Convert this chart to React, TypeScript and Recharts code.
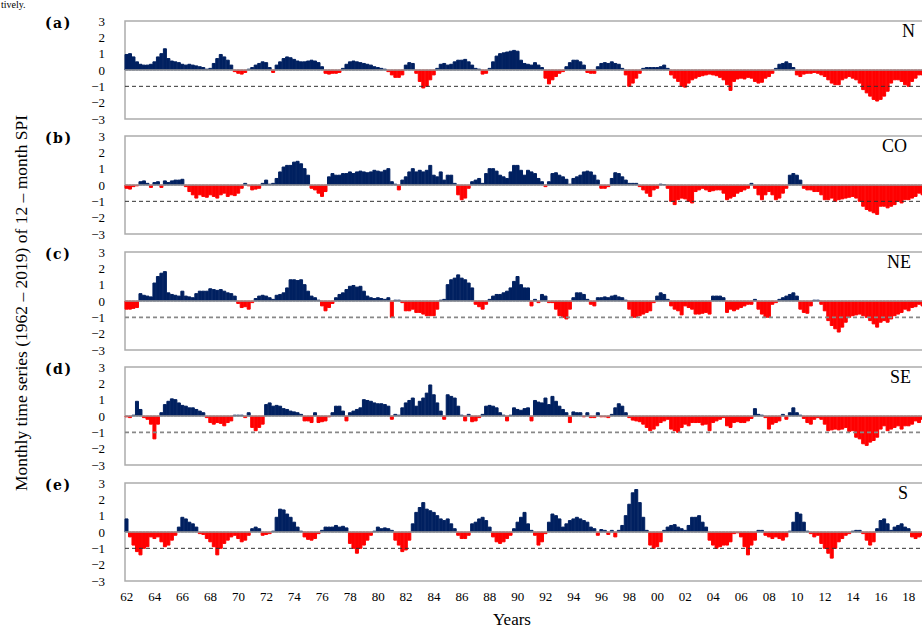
import React from 'react';
import { BarChart, Bar, XAxis, YAxis, ReferenceLine, ReferenceArea, Cell } from 'recharts';

const years = [
  1962, 1963, 1964, 1965, 1966, 1967, 1968, 1969, 1970, 1971,
  1972, 1973, 1974, 1975, 1976, 1977, 1978, 1979, 1980, 1981,
  1982, 1983, 1984, 1985, 1986, 1987, 1988, 1989, 1990, 1991,
  1992, 1993, 1994, 1995, 1996, 1997, 1998, 1999, 2000, 2001,
  2002, 2003, 2004, 2005, 2006, 2007, 2008, 2009, 2010, 2011,
  2012, 2013, 2014, 2015, 2016, 2017, 2018, 2019,
];
const quarters = ['Q1', 'Q2', 'Q3', 'Q4'];
const yTicks = [-3, -2, -1, 0, 1, 2, 3];
const xTickYears = [1962, 1964, 1966, 1968, 1970, 1972, 1974, 1976, 1978, 1980, 1982, 1984, 1986, 1988, 1990, 1992, 1994, 1996, 1998, 2000, 2002, 2004, 2006, 2008, 2010, 2012, 2014, 2016, 2018];
const xTickLabels = ['62', '64', '66', '68', '70', '72', '74', '76', '78', '80', '82', '84', '86', '88', '90', '92', '94', '96', '98', '00', '02', '04', '06', '08', '10', '12', '14', '16', '18'];
const panelLetters = ['(a)', '(b)', '(c)', '(d)', '(e)'];
const regionNames = ['N', 'CO', 'NE', 'SE', 'S'];

// quarterly 12-month SPI, one row per year (1962..2019)
const spiN = [
  0.95, 1.0, 0.8, 0.5,
  0.35, 0.3, 0.3, 0.35,
  0.5, 0.8, 1.0, 1.3,
  0.7, 0.55, 0.5, 0.45,
  0.35, 0.3, 0.35, 0.3,
  0.25, 0.2, 0.15, 0.05,
  0.1, 0.4, 0.7, 0.95,
  0.8, 0.6, 0.3, -0.1,
  -0.2, -0.25, -0.15, 0.05,
  0.15, 0.3, 0.4, 0.5,
  0.45, 0.15, -0.15, 0.3,
  0.5, 0.7, 0.8, 0.75,
  0.65, 0.55, 0.5, 0.5,
  0.55, 0.6, 0.55, 0.45,
  0.2, -0.2, -0.25, -0.2,
  -0.2, -0.15, 0.1, 0.35,
  0.5, 0.55, 0.5, 0.45,
  0.4, 0.35, 0.3, 0.2,
  0.15, 0.1, 0.05, -0.1,
  -0.3, -0.45, -0.45, -0.3,
  0.3, 0.45, 0.4, -0.2,
  -0.7, -1.1, -1.0, -0.6,
  -0.3, 0.1, 0.35, 0.4,
  0.3, 0.35, 0.5, 0.6,
  0.6, 0.65, 0.5, 0.3,
  0.1, 0.05, -0.25, -0.2,
  0.1, 0.5, 0.85, 1.0,
  1.05, 1.1, 1.15, 1.2,
  1.15, 0.6, 0.4, 0.35,
  0.3, 0.45, 0.3, 0.15,
  -0.5, -0.85, -0.6, -0.4,
  -0.2, -0.1, 0.2, 0.45,
  0.6, 0.6, 0.5, 0.3,
  -0.15, -0.2, -0.2, 0.2,
  0.4, 0.45, 0.4, 0.5,
  0.4, 0.35, 0.1, -0.3,
  -1.0, -0.8, -0.5, -0.2,
  0.1, 0.15, 0.15, 0.15,
  0.15, 0.2, 0.3, 0.1,
  -0.3, -0.5, -0.7, -1.0,
  -1.05, -0.8, -0.6, -0.5,
  -0.4, -0.35, -0.3, -0.25,
  -0.3, -0.35, -0.45, -0.6,
  -0.9, -1.25, -0.7, -0.55,
  -0.5, -0.55, -0.45, -0.5,
  -0.7, -0.8, -0.75, -0.5,
  -0.4, -0.2, 0.1, 0.35,
  0.4, 0.5, 0.4, 0.15,
  -0.3, -0.4, -0.25, -0.2,
  -0.2, -0.15, -0.2, -0.3,
  -0.4, -0.6, -0.8, -0.9,
  -0.9, -0.6, -0.5, -0.4,
  -0.5, -0.6, -0.8, -1.2,
  -1.4, -1.6, -1.8, -1.9,
  -1.8, -1.6, -1.3, -0.8,
  -0.6, -0.6, -0.7, -0.9,
  -1.0, -0.7, -0.5, -0.3,
  -0.3, -0.4, -0.3, -0.2,
];

const spiCO = [
  -0.2, -0.25, -0.1, -0.05,
  0.2, 0.25, 0.1, -0.15,
  0.15, 0.2, -0.15, 0.25,
  0.15, 0.25, 0.3, 0.3,
  0.35, -0.1, -0.4, -0.6,
  -0.8, -0.6, -0.7, -0.75,
  -0.6, -0.7, -0.8, -0.6,
  -0.5, -0.7, -0.6, -0.65,
  -0.5, -0.2, 0.1, -0.05,
  -0.3, -0.25, -0.2, 0.1,
  0.3, 0.05, 0.1, 0.4,
  0.8, 1.1, 1.2, 1.2,
  1.4, 1.45, 1.3, 1.0,
  0.6, -0.2, -0.3, -0.5,
  -0.7, -0.4, 0.5, 0.7,
  0.6, 0.6, 0.7, 0.7,
  0.8, 0.7, 0.8, 0.85,
  0.8, 0.75, 0.8, 0.9,
  0.85, 0.8, 0.9, 1.0,
  0.2, 0.05, -0.3, 0.3,
  0.5, 0.8, 1.0, 0.8,
  0.9, 0.8, 0.9, 1.2,
  0.6, 0.5, 0.8, 0.3,
  0.6, 0.6, 0.1, -0.6,
  -0.9, -0.8, -0.2, 0.2,
  0.3, 0.4, 0.1, 0.7,
  1.0, 1.0, 0.85, 0.6,
  0.5, 0.4, 0.8, 1.2,
  1.2, 0.9, 0.6, 0.9,
  0.8, 0.7, 0.4, 0.2,
  -0.1, 0.2, 0.7, 0.75,
  0.6, 0.5, 0.35, 0.05,
  0.4, 0.5, 0.6, 0.8,
  0.85, 0.8, 0.6, 0.3,
  -0.2, -0.2, -0.1, 0.4,
  0.75, 0.7, 0.5, 0.3,
  0.1, 0.1, 0.1, -0.1,
  -0.3, -0.5, -0.7, -0.3,
  -0.2, 0.05, 0.03, -0.2,
  -1.0, -1.2, -0.9, -0.8,
  -0.85, -1.0, -1.1, -0.4,
  -0.3, -0.2, -0.3, -0.4,
  -0.35, -0.3, -0.3, -0.5,
  -0.9, -0.8, -0.7, -0.5,
  -0.4, -0.3, -0.2, 0.1,
  -0.2, -0.6, -0.9, -0.6,
  -0.4, -0.6, -0.9, -0.8,
  -0.5, -0.2, 0.6, 0.7,
  0.6, 0.3, -0.2, -0.3,
  -0.3, -0.4, -0.4, -0.6,
  -0.9, -0.9, -0.8, -1.0,
  -0.9, -0.85, -0.8, -0.75,
  -0.7, -0.8, -1.0, -1.3,
  -1.5, -1.6, -1.7, -1.8,
  -1.3, -1.3, -1.4, -1.3,
  -1.2, -1.0, -1.1, -0.9,
  -0.9, -0.8, -0.7, -0.5,
  -0.6, -0.5, -0.4, -0.3,
];

const spiNE = [
  -0.5, -0.5, -0.45, -0.4,
  0.45, 0.35, 0.3, 0.25,
  1.1, 1.5, 1.7, 1.8,
  0.5, 0.4, 0.35, 0.3,
  0.6, 0.3, 0.25, 0.2,
  0.45, 0.6, 0.6, 0.6,
  0.75, 0.7, 0.65, 0.7,
  0.6, 0.5, 0.45, 0.3,
  -0.15, -0.4, -0.35, -0.5,
  -0.1, 0.15, 0.3, 0.35,
  0.3, 0.2, 0.1, 0.35,
  0.4, 0.5, 0.8, 1.3,
  1.3, 1.25, 1.3, 1.0,
  0.6, 0.3, 0.2, 0.05,
  -0.3, -0.6, -0.4, -0.15,
  0.2, 0.4, 0.5, 0.7,
  0.9, 0.95, 0.85, 0.9,
  0.6, 0.3, 0.2, 0.15,
  0.2, 0.15, 0.1, 0.2,
  -1.0, 0.05, 0.05, -0.1,
  -0.6, -0.6, -0.5, -0.7,
  -0.7, -0.8, -0.9, -0.9,
  -0.9, -0.5, 0.05, 0.1,
  1.0, 1.3, 1.4, 1.6,
  1.4, 1.3, 1.1, 0.8,
  -0.2, -0.35, -0.5, -0.2,
  0.1, 0.3, 0.4, 0.4,
  0.5, 0.6, 0.8, 1.2,
  1.5, 1.0, 0.8, 0.8,
  -0.3, 0.1, -0.1, 0.4,
  0.3, -0.1, -0.1, -0.5,
  -0.9, -1.0, -1.1, -0.5,
  0.2, 0.5, 0.5, 0.4,
  0.1, -0.2, -0.3, 0.2,
  0.2, 0.25, 0.2, 0.3,
  0.35, 0.25, 0.2, 0.05,
  -0.5, -1.0, -1.0, -0.9,
  -0.8, -0.7, -0.6, -0.1,
  0.3, 0.5, 0.4, 0.1,
  -0.3, -0.5, -0.6, -0.85,
  -0.3, -0.4, -0.5, -0.8,
  -0.8, -0.75, -0.7, -0.8,
  0.3, 0.3, 0.3, 0.2,
  -0.7, -0.5, -0.6, -0.5,
  -0.4, -0.3, -0.2, -0.2,
  0.1, -0.5, -0.8, -1.0,
  -1.0, -0.2, -0.1, 0.1,
  0.2, 0.3, 0.4, 0.5,
  0.3, -0.5, -0.7, -0.75,
  -0.3, 0.05, 0.05, -0.2,
  -0.6, -1.2, -1.5, -1.7,
  -1.9, -1.6, -1.3, -1.0,
  -0.9, -0.85, -0.8, -0.9,
  -1.0, -1.2, -1.4, -1.6,
  -1.3, -1.2, -1.3, -1.1,
  -0.9, -0.8, -0.7, -0.5,
  -0.6, -0.4, -0.35, -0.2,
  -0.3, -0.4, -0.5, -0.4,
];

const spiSE = [
  -0.05, -0.1, 0.05, 0.9,
  0.4, -0.1, -0.2, -0.5,
  -1.4, -0.5, 0.2, 0.7,
  0.9, 1.05, 1.0, 0.8,
  0.65, 0.6, 0.5, 0.5,
  0.4, 0.3, 0.2, -0.1,
  -0.4, -0.5, -0.4, -0.45,
  -0.6, -0.4, -0.3, 0.05,
  0.05, 0.05, -0.1, 0.2,
  -0.7, -0.9, -0.7, -0.5,
  0.7, 0.8, 0.6, 0.65,
  0.6, 0.45, 0.4, 0.3,
  0.25, 0.2, 0.1, -0.3,
  -0.3, -0.4, 0.2, -0.4,
  -0.35, -0.3, -0.05, 0.2,
  0.6, 0.6, 0.3, -0.3,
  0.2, 0.3, 0.4, 0.5,
  1.0, 0.95, 0.9, 0.8,
  0.75, 0.75, 0.7, 0.6,
  -0.2, 0.1, 0.05, 0.5,
  0.8, 0.95, 1.1, 0.6,
  0.9, 1.1, 1.4, 1.9,
  1.3, 0.8, 0.3, -0.2,
  1.3, 1.2, 1.1, 0.6,
  0.05, -0.3, 0.1, -0.35,
  -0.3, -0.1, 0.1, 0.6,
  0.65, 0.6, 0.5, 0.2,
  0.05, -0.3, 0.05, 0.5,
  0.4, 0.35, 0.45, 0.5,
  -0.3, 0.95, 0.85, 0.8,
  1.1, 0.7, 1.2, 0.9,
  0.6, 0.4, 0.2, -0.4,
  0.25, 0.2, 0.2, -0.05,
  0.2, -0.1, -0.1, 0.2,
  -0.05, -0.05, -0.1, 0.1,
  0.5, 0.75, 0.6, 0.2,
  -0.1, -0.25, -0.3, -0.35,
  -0.5, -0.7, -0.9, -0.8,
  -0.6, -0.4, -0.3, -0.2,
  -0.8, -0.9, -1.0, -0.7,
  -0.5, -0.6, -0.4, -0.4,
  -0.4, -0.55, -0.5, -0.9,
  -0.4, -0.3, -0.2, -0.1,
  -0.6, -0.7, -0.4, -0.35,
  -0.4, -0.4, -0.3, -0.15,
  0.45, 0.1, 0.05, -0.1,
  -0.8, -0.5, -0.4, -0.3,
  0.1, -0.2, 0.2, 0.5,
  0.2, 0.05, -0.15, -0.4,
  -0.5, -0.2, -0.1, -0.2,
  -0.5, -0.9, -0.85, -0.8,
  -0.85, -0.8, -0.7, -0.95,
  -0.9, -1.3, -1.4, -1.7,
  -1.8, -1.6, -1.5, -1.3,
  -0.8, -0.6, -0.9, -0.8,
  -0.7, -0.6, -0.8, -0.6,
  -0.6, -0.5, -0.3, -0.4,
  -0.2, -0.3, -0.2, -0.1,
];

const spiS = [
  0.8, -0.3, -0.8, -1.2,
  -1.4, -1.0, -0.9, -0.3,
  -0.4, -0.3, -0.6, -0.9,
  -0.8, -0.5, -0.2, 0.3,
  0.9, 0.8, 0.6, 0.5,
  0.3, -0.1, -0.15, -0.4,
  -0.6, -0.9, -1.4, -1.0,
  -0.7, -0.5, -0.3, -0.2,
  -0.4, -0.6, -0.5, -0.2,
  0.2, 0.3, 0.2, -0.2,
  -0.15, -0.1, 0.05, 0.9,
  1.4, 1.35, 1.1, 0.9,
  0.6, 0.3, 0.05, -0.3,
  -0.45, -0.5, -0.4, -0.1,
  0.1, 0.3, 0.3, 0.3,
  0.4, 0.3, 0.35, 0.25,
  -0.7, -1.0, -1.3, -1.0,
  -0.8, -0.5, -0.2, 0.05,
  0.3, 0.2, 0.25, 0.2,
  0.1, -0.5, -0.8, -1.2,
  -1.1, -0.5, 0.5, 1.2,
  1.5, 1.8, 1.4, 1.3,
  1.2, 1.0, 0.8, 0.7,
  0.8, 0.5, 0.2, -0.2,
  -0.4, -0.4, -0.2, 0.5,
  0.6, 0.8, 0.9, 0.7,
  0.3, -0.3, -0.6, -0.7,
  -0.6, -0.4, -0.2, 0.2,
  0.6, 0.9, 1.2, 0.5,
  0.1, -0.2, -0.8, -0.6,
  -0.1, 0.6, 1.1, 1.0,
  0.8, 0.3, 0.5, 0.7,
  0.8, 0.9, 0.8, 0.7,
  0.6, 0.3, 0.2, -0.2,
  0.15, 0.1, -0.15, 0.1,
  -0.3, 0.1, 0.4, 1.0,
  1.7, 2.4, 2.6, 1.8,
  0.9, 0.1, -0.8, -1.0,
  -0.9, -0.6, 0.1, 0.3,
  0.4, 0.45, 0.3, 0.2,
  0.1, 0.4, 0.9, 0.9,
  1.0, 0.6, 0.3, -0.5,
  -0.8, -1.0, -0.9, -0.8,
  -0.8, -0.6, -0.1, -0.05,
  -0.3, -0.9, -1.4, -0.8,
  -0.5, 0.1, 0.1, -0.2,
  -0.3, -0.4, -0.3, -0.4,
  -0.5, -0.3, 0.05, 0.6,
  1.2, 1.1, 0.6, 0.05,
  -0.1, -0.3, -0.2, -0.7,
  -1.0, -1.3, -1.6, -1.0,
  -0.6, -0.4, -0.2, -0.1,
  0.05, 0.1, 0.1, -0.1,
  -0.5, -0.8, -0.6, 0.2,
  0.7, 0.8, 0.5, 0.1,
  0.3, 0.4, 0.5, 0.3,
  0.2, -0.3, -0.4, -0.3,
  -0.2, -0.1, 0.05, 0.1,
];

const BLUE = '#002060';
const RED = '#FF0000';
const FONT = "'Liberation Serif', 'DejaVu Serif', serif";

const categories = years.flatMap((y) => quarters.map((q) => `${y}${q}`));
const xTicks = xTickYears.map((y) => `${y}Q1`);
const xLabelOf: Record<string, string> = {};
xTickYears.forEach((y, i) => {
  xLabelOf[`${y}Q1`] = xTickLabels[i];
});

const series = [spiN, spiCO, spiNE, spiSE, spiS];
const panelTops = [20.5, 136, 251.5, 367, 482.5];
const dashStyles = [
  { stroke: '#333', width: 1 },
  { stroke: '#333', width: 1 },
  { stroke: '#888', width: 1.8 },
  { stroke: '#888', width: 1.8 },
  { stroke: '#333', width: 1 },
];

const PLOT_H = 98;
const PAD = 10;

function Panel({ values, top, showX, dash }: { values: number[]; top: number; showX: boolean; dash: { stroke: string; width: number } }) {
  const data = categories.map((c, i) => ({ q: c, v: values[i] }));
  const height = PAD + PLOT_H + (showX ? 30 : 0) + PAD;
  return (
    <div style={{ position: 'absolute', left: 0, top: top - PAD }}>
      <BarChart
        width={960}
        height={height}
        data={data}
        margin={{ top: PAD, right: 25, bottom: PAD, left: 0 }}
        barCategoryGap={0}
        barGap={0}
      >
        <XAxis
          dataKey="q"
          hide={!showX}
          height={30}
          ticks={xTicks}
          interval={0}
          tickFormatter={(v: string) => xLabelOf[v] ?? ''}
          axisLine={false}
          tickLine={false}
          tickSize={6}
          tickMargin={5}
          tick={{ fontFamily: FONT, fontSize: 13, fill: '#000' }}
        />
        <YAxis
          type="number"
          domain={[-3, 3]}
          ticks={yTicks}
          interval={0}
          width={125}
          allowDataOverflow
          axisLine={false}
          tickLine={false}
          tickSize={6}
          tickMargin={14}
          tickFormatter={(v: number) => (v < 0 ? `\u2212${Math.abs(v)}` : `${v}`)}
          tick={{ fontFamily: FONT, fontSize: 13, fill: '#000' }}
        />
        <Bar dataKey="v" isAnimationActive={false}>
          {data.map((d, i) => (
            <Cell key={i} fill={d.v >= 0 ? BLUE : RED} stroke={d.v >= 0 ? BLUE : RED} strokeWidth={1} />
          ))}
        </Bar>
        <ReferenceLine y={0} stroke="#9a9a9a" strokeWidth={1.5} />
        <ReferenceLine y={-1} stroke={dash.stroke} strokeWidth={dash.width} strokeDasharray="4 3" />
        <ReferenceArea y1={-3} y2={3} fill="none" fillOpacity={0} stroke="#acacac" strokeWidth={1.5} />
      </BarChart>
    </div>
  );
}

export default function App() {
  return (
    <div
      style={{
        position: 'absolute',
        left: 0,
        top: 0,
        width: 922,
        height: 628,
        overflow: 'hidden',
        background: '#fff',
      }}
    >
      {series.map((vals, i) => (
        <Panel key={i} values={vals} top={panelTops[i]} showX={i === 4} dash={dashStyles[i]} />
      ))}
      <svg
        width={922}
        height={628}
        style={{ position: 'absolute', left: 0, top: 0, pointerEvents: 'none' }}
      >
        <text x={1} y={8} fontFamily={FONT} fontSize={10} fill="#000">tively.</text>
        <text
          transform="rotate(-90)"
          x={-303}
          y={27}
          textAnchor="middle"
          fontFamily={FONT}
          fontSize={17.5}
          fill="#000"
        >
          Monthly time series (1962 – 2019) of 12 – month  SPI
        </text>
        {panelLetters.map((t, i) => (
          <text
            key={t}
            x={45}
            y={panelTops[i] + 7}
            fontFamily="'DejaVu Serif', serif"
            fontWeight="bold"
            fontSize={14}
            letterSpacing={1.5}
            fill="#000"
          >
            {t}
          </text>
        ))}
        {regionNames.map((t, i) => (
          <text
            key={t}
            x={[902, 882, 887, 890, 898][i]}
            y={panelTops[i] + 16}
            fontFamily={FONT}
            fontSize={18}
            fill="#000"
          >
            {t}
          </text>
        ))}
        <text x={512} y={625} textAnchor="middle" fontFamily={FONT} fontSize={17} fill="#000">
          Years
        </text>
      </svg>
    </div>
  );
}
